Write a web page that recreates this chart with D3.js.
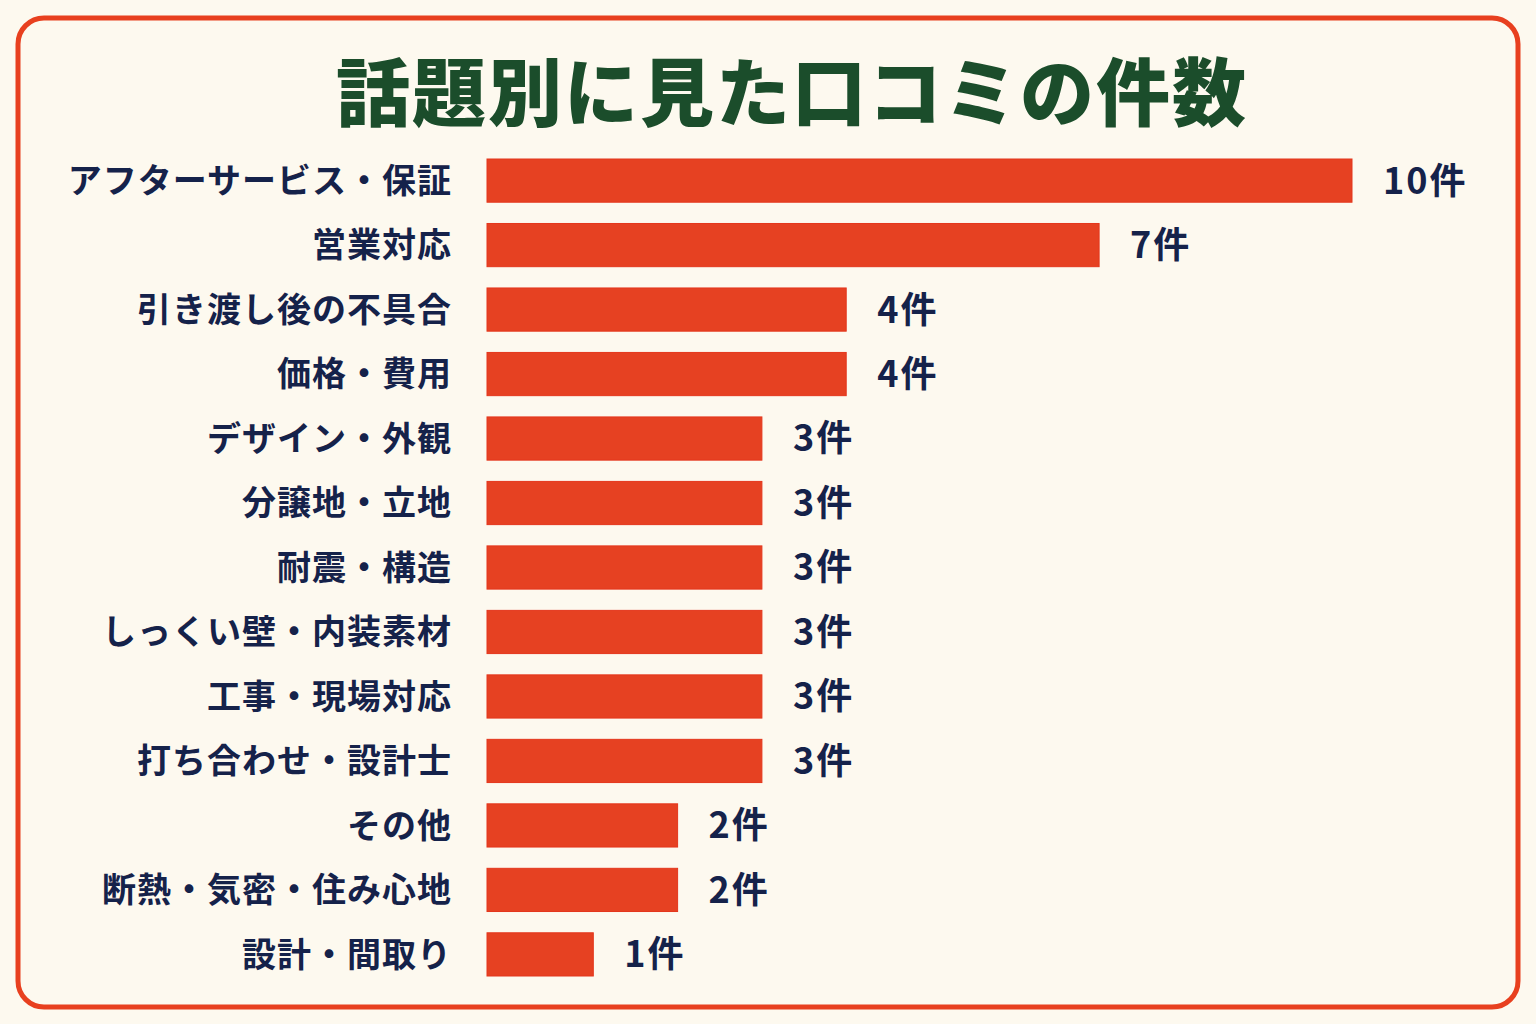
<!DOCTYPE html>
<html>
<head>
<meta charset="utf-8">
<script src="https://cdn.jsdelivr.net/npm/d3@7"></script>
<style>
body { margin:0; background:#fdf9ef; }
svg { display:block; font-family:"Noto Sans CJK JP", "Noto Sans", sans-serif; }
</style>
</head>
<body>
<div id="chart"></div>
<script>
var topics = ["アフターサービス・保証","営業対応","引き渡し後の不具合","価格・費用","デザイン・外観","分譲地・立地","耐震・構造","しっくい壁・内装素材","工事・現場対応","打ち合わせ・設計士","その他","断熱・気密・住み心地","設計・間取り"];
var counts = [10,7,4,4,3,3,3,3,3,3,2,2,1];
var unit = "件";
var title = "話題別に見た口コミの件数";

var w = 1536, h = 1024;
var barLeft = 487, barRight = 1352;

var svg = d3.select("#chart").append("svg")
  .attr("width", w)
  .attr("height", h);

svg.append("rect")
  .attr("x", 0).attr("y", 0).attr("width", w).attr("height", h)
  .attr("fill", "#fdf9ef");

// frame
svg.append("rect")
  .attr("x", 18).attr("y", 18)
  .attr("width", w - 36).attr("height", h - 35)
  .attr("rx", 26)
  .attr("fill", "#fdf9ef")
  .attr("stroke", "#e8401f")
  .attr("stroke-width", 5);

svg.append("text")
  .text(title)
  .attr("x", 792)
  .attr("y", 120)
  .attr("text-anchor", "middle")
  .attr("font-size", 74)
  .attr("font-weight", 900)
  .attr("letter-spacing", 2)
  .attr("fill", "#1b4d2b");

var xScale = d3.scaleLinear()
  .domain([0, d3.max(counts)])
  .range([barLeft + 22, barRight]);

var yScale = d3.scaleBand()
  .domain(topics)
  .range([159, 976])
  .paddingInner(0.33);

var rows = svg.append("g").selectAll("g")
  .data(topics)
  .enter()
  .append("g");

rows.append("rect")
  .attr("x", barLeft)
  .attr("y", function(d) { return yScale(d); })
  .attr("width", function(d, i) { return xScale(counts[i]) - barLeft; })
  .attr("height", yScale.bandwidth())
  .attr("fill", "#e64122")
  .attr("stroke", "#e4361c")
  .attr("stroke-width", 1);

rows.append("text")
  .text(function(d) { return d; })
  .attr("x", 452)
  .attr("y", function(d) { return yScale(d) + yScale.bandwidth() / 2; })
  .attr("dy", "0.36em")
  .attr("text-anchor", "end")
  .attr("font-size", 34)
  .attr("font-weight", 700)
  .attr("letter-spacing", 1)
  .attr("fill", "#15224a");

rows.append("text")
  .text(function(d, i) { return counts[i] + unit; })
  .attr("x", function(d, i) { return xScale(counts[i]) + 31; })
  .attr("y", function(d) { return yScale(d) + yScale.bandwidth() / 2; })
  .attr("dy", "0.36em")
  .attr("font-size", 36)
  .attr("font-weight", 700)
  .attr("letter-spacing", 2)
  .attr("fill", "#15224a");
</script>
</body>
</html>
